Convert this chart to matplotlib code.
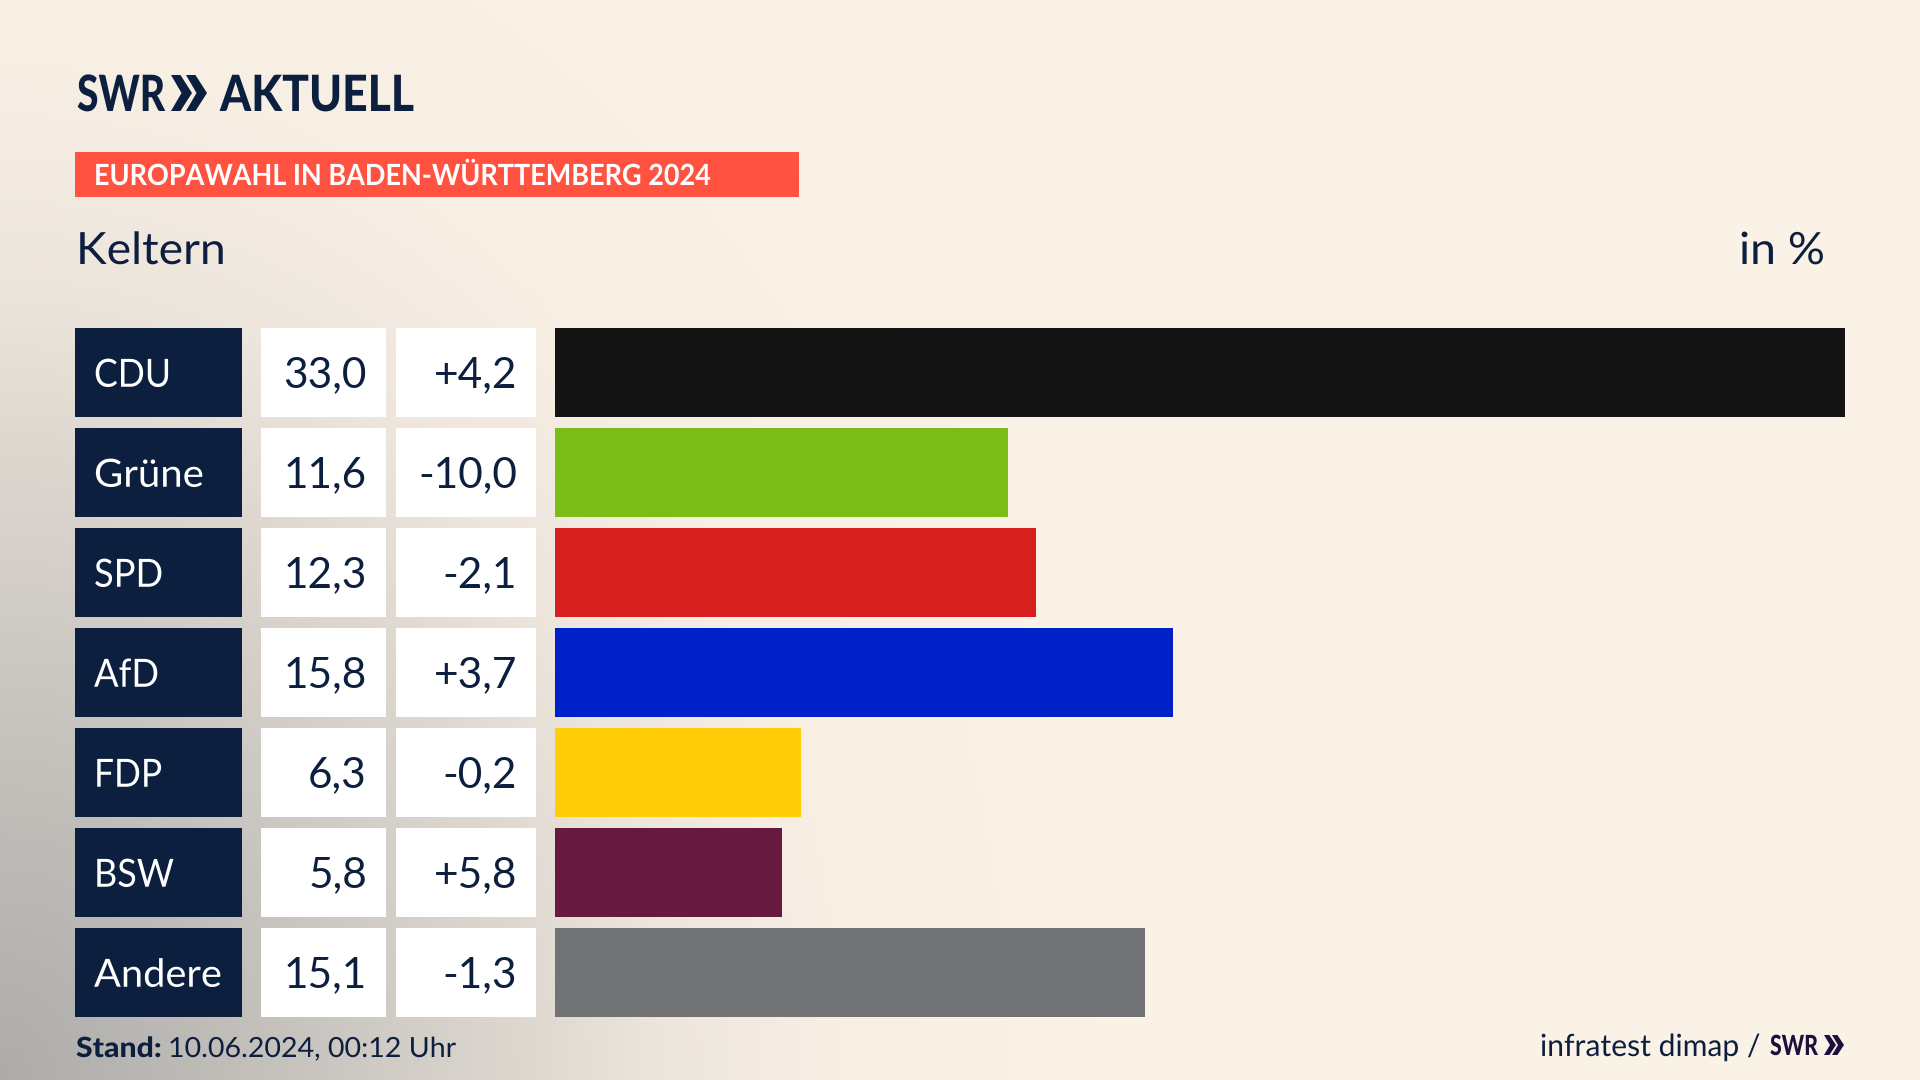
import numpy as np
import matplotlib
matplotlib.use("Agg")
import matplotlib.pyplot as plt
from matplotlib.patches import Rectangle, Polygon
from matplotlib.patheffects import AbstractPathEffect
from matplotlib.transforms import Affine2D

parties = ["CDU", "Grüne", "SPD", "AfD", "FDP", "BSW", "Andere"]
votes = [33.0, 11.6, 12.3, 15.8, 6.3, 5.8, 15.1]
changes = [4.2, -10.0, -2.1, 3.7, -0.2, 5.8, -1.3]
colors = ["#141414", "#7ABD17", "#D7201E", "#0020C8", "#FFCE08", "#661A3E", "#707274"]

NAVY = "#0C1F3F"
plt.rcParams["font.family"] = ["Lato", "DejaVu Sans"]

W, H = 1920, 1080
fig = plt.figure(figsize=(19.2, 10.8), dpi=100)
canvas = fig.add_axes([0, 0, 1, 1])
canvas.set_xlim(0, W)
canvas.set_ylim(H, 0)
canvas.axis("off")

# background wash
yy, xx = np.mgrid[0:H:270j, 0:W:480j]
d = np.sqrt((xx / 950) ** 2 + ((H - yy) / 1150) ** 2)
t = np.interp(d, [0, 0.3, 0.55, 0.7, 0.88, 1.15], [1.0, 0.68, 0.38, 0.17, 0.05, 0.0])
base = np.array([0xFB, 0xF2, 0xE7]) / 255
dark = np.array([0xAD, 0xAC, 0xAA]) / 255
img = base[None, None, :] * (1 - t[..., None]) + dark[None, None, :] * t[..., None]
canvas.imshow(img, extent=(0, W, H, 0), aspect="auto", zorder=0, interpolation="bilinear")


class XScale(AbstractPathEffect):
    def __init__(self, sx, x0):
        super().__init__()
        self.sx, self.x0 = sx, x0

    def draw_path(self, renderer, gc, tpath, affine, rgbFace=None):
        a = affine + Affine2D().translate(-self.x0, 0).scale(self.sx, 1).translate(self.x0, 0)
        renderer.draw_path(gc, tpath, a, rgbFace)


def fit(txt, x0, x1, y, size, color, weight="normal"):
    """Left-anchored text squeezed horizontally to span x0..x1."""
    t = canvas.text(x0, y, txt, fontsize=size, color=color, fontweight=weight,
                    ha="left", va="baseline", zorder=5)
    bb = t.get_window_extent(fig.canvas.get_renderer())
    t.set_path_effects([XScale((x1 - x0) / bb.width, x0 * fig.dpi / 100)])
    return t


def chevrons(x0, y0, y1, w, gap, color):
    h = y1 - y0
    for k in range(2):
        xs = x0 + k * gap
        canvas.add_patch(Polygon(
            [(xs, y0), (xs + w * 0.45, y0), (xs + w, y0 + h / 2), (xs + w * 0.45, y1),
             (xs, y1), (xs + w * 0.5, y0 + h / 2)],
            closed=True, facecolor=color, edgecolor="none", zorder=5))


# header
fit("SWR", 77, 165, 111, 36, NAVY, "black")
chevrons(171, 75, 111, 21, 15, NAVY)
fit("AKTUELL", 220, 414, 111, 36, NAVY, "black")

canvas.add_patch(Rectangle((75, 152), 724, 45, facecolor="#FF5240", edgecolor="none", zorder=2))
fit("EUROPAWAHL IN BADEN-WÜRTTEMBERG 2024", 94, 711, 185, 21, "white", "bold")
fit("Keltern", 76, 226, 264, 32, NAVY)
fit("in %", 1739, 1825, 264, 32, NAVY)

# table columns
row_top = 328
pitch = 100
row_h = 88.5
label_right = [171, 204, 163, 159, 162, 174, 222]
for i, (p, v, c) in enumerate(zip(parties, votes, changes)):
    top = row_top + i * pitch
    base_y = top + row_h / 2 + 14.5
    canvas.add_patch(Rectangle((75, top), 167, row_h, facecolor=NAVY, edgecolor="none", zorder=2))
    canvas.add_patch(Rectangle((261, top), 125, row_h, facecolor="white", edgecolor="none", zorder=2))
    canvas.add_patch(Rectangle((396, top), 140, row_h, facecolor="white", edgecolor="none", zorder=2))
    fit(p, 94, label_right[i], base_y, 28, "white")
    canvas.text(367, base_y, f"{v:.1f}".replace(".", ","), fontsize=30.5, color=NAVY,
                ha="right", va="baseline", zorder=5)
    canvas.text(517, base_y, f"{c:+.1f}".replace(".", ","), fontsize=30.5, color=NAVY,
                ha="right", va="baseline", zorder=5)

# bars
ax = fig.add_axes([555 / W, 1 - (row_top - 5.75 + 700) / H, 1290 / W, 700 / H])
ax.patch.set_alpha(0)
ax.barh(range(len(votes)), votes, height=0.885, color=colors)
ax.set_xlim(0, 33)
ax.set_ylim(6.5, -0.5)
ax.axis("off")

# footer
fit("Stand:", 76, 162, 1057, 20, NAVY, "black")
fit("10.06.2024, 00:12 Uhr", 168, 456, 1057, 20, NAVY)
fit("infratest dimap /", 1540, 1760, 1056, 22, NAVY)
fit("SWR", 1770, 1818, 1055, 20, "#1E0F3E", "black")
chevrons(1824, 1035, 1055, 12, 8, "#1E0F3E")

fig.savefig("out.png", dpi=100)
